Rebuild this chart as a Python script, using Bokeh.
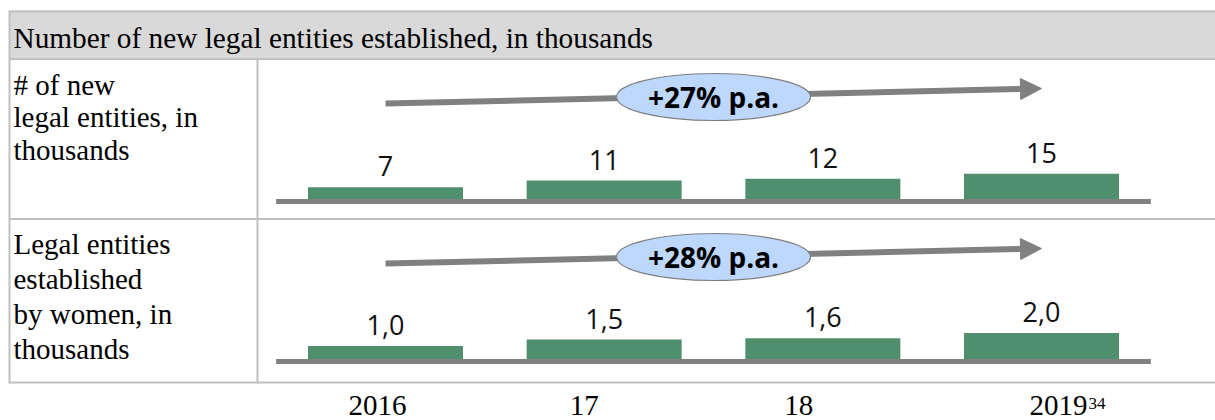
from bokeh.plotting import figure
from bokeh.models import Range1d, Arrow, NormalHead
from bokeh.core.properties import value
from bokeh.embed import file_html
from bokeh.resources import INLINE

# ---- data ----
title = "Number of new legal entities established, in thousands"
years = ["2016", "17", "18", "2019"]
year_sup = ["", "", "", "34"]
entities = [7, 11, 12, 15]
entities_lbl = ["7", "11", "12", "15"]
women = [1.0, 1.5, 1.6, 2.0]
women_lbl = ["1,0", "1,5", "1,6", "2,0"]
cagr = ["+27% p.a.", "+28% p.a."]
row1_label = ["# of new", "legal entities, in", "thousands"]
row2_label = ["Legal entities", "established", "by women, in", "thousands"]

# ---- style ----
W, H = 1215, 420
GREEN = "#508f6e"
GRAY = "#808080"
BORDER = "#c0c0c0"
HEADER = "#d9d9d9"
BLUE = "#bdd7fd"
SERIF = value("Liberation Serif")
SANS = value("Open Sans")
SHIFT = 0.33  # svg baseline compensation (em)


def off(size):
    return -SHIFT * size


p = figure(width=W, height=H, x_range=Range1d(0, W), y_range=Range1d(H, 0),
           output_backend="svg", toolbar_location=None, min_border=0,
           x_axis_location=None, y_axis_location=None, outline_line_color=None,
           background_fill_color="white", border_fill_color="white")
p.grid.visible = False

# category index range: bar centres at x0 + i*dx
x0, dx = 385.0, 218.67
p.extra_x_ranges = {"idx": Range1d(-x0 / dx, (W - x0) / dx)}
rows = [
    dict(vals=entities, lbl=entities_lbl, base=198.5, k=1.68, line_y=201.0,
         arrow=(103.0, 88.0), ell_y=96.5, name="r1", cagr=cagr[0]),
    dict(vals=women, lbl=women_lbl, base=358.5, k=13.0, line_y=361.0,
         arrow=(263.0, 248.0), ell_y=256.5, name="r2", cagr=cagr[1]),
]
for r in rows:
    p.extra_y_ranges[r["name"]] = Range1d((r["base"] - H) / r["k"], r["base"] / r["k"])

# ---- table frame ----
p.quad(left=[9], right=[W], top=[10], bottom=[58.5], fill_color=HEADER, line_color=None)
p.segment(x0=[9, 9, 9, 9], x1=[W, W, W, W], y0=[11, 58.5, 218.5, 382], y1=[11, 58.5, 218.5, 382],
          line_color=BORDER, line_width=2)
p.segment(x0=[9, 257], x1=[9, 257], y0=[10, 58.5], y1=[383, 383], line_color=BORDER, line_width=2)

p.text(x=[13], y=[47], text=[title], text_font=SERIF, text_font_size="29.3px",
       y_offset=off(29.3), text_color="black", text_baseline="alphabetic", text_align="left")

for lines, y_start, step in [(row1_label, 94, 32.5), (row2_label, 253, 35)]:
    p.text(x=[13] * len(lines), y=[y_start + i * step for i in range(len(lines))], text=lines,
           text_font=SERIF, text_font_size="29px", y_offset=off(29), text_color="black",
           text_baseline="alphabetic", text_align="left")

idx = list(range(len(years)))
for r in rows:
    ys, ye = r["arrow"]
    p.add_layout(Arrow(x_start=0, y_start=ys, x_end=3, y_end=ye, x_range_name="idx",
                       line_color=GRAY, line_width=6, level="underlay",
                       end=NormalHead(size=21, fill_color=GRAY, line_color=GRAY, line_width=1)))
    p.vbar(x=idx, top=r["vals"], bottom=0, width=155 / dx, x_range_name="idx",
           y_range_name=r["name"], fill_color=GREEN, line_color=None)
    p.segment(x0=[-0.5], x1=[3.5], y0=[r["line_y"]], y1=[r["line_y"]], x_range_name="idx",
              line_color=GRAY, line_width=5)
    p.text(x=idx, y=r["vals"], text=r["lbl"], x_range_name="idx", y_range_name=r["name"],
           y_offset=-12 + off(27), text_font=SANS, text_font_size="27px", text_color="#111111",
           text_align="center", text_baseline="alphabetic")
    p.ellipse(x=[1.5], y=[r["ell_y"]], width=194, height=47, width_units="screen",
              height_units="screen", x_range_name="idx", fill_color=BLUE,
              line_color="#7f7f7f", line_width=1.2)
    p.text(x=[1.5], y=[r["ell_y"] + 9], text=[r["cagr"]], x_range_name="idx",
           y_offset=off(28), text_font=SANS, text_font_style="bold", text_font_size="28px",
           text_color="black", text_align="center", text_baseline="alphabetic")

nudge = [-8, -20, -24, 17]
p.text(x=idx, y=[415] * 4, text=years, x_range_name="idx", x_offset=nudge, y_offset=off(29),
       text_font=SERIF, text_font_size="29px", text_color="black",
       text_align="center", text_baseline="alphabetic")
p.text(x=idx, y=[409] * 4, text=year_sup, x_range_name="idx", x_offset=[n + 30 for n in nudge],
       y_offset=off(17), text_font=SERIF, text_font_size="17px", text_color="black",
       text_align="left", text_baseline="alphabetic")

open("out.html", "w").write(file_html(p, INLINE))
